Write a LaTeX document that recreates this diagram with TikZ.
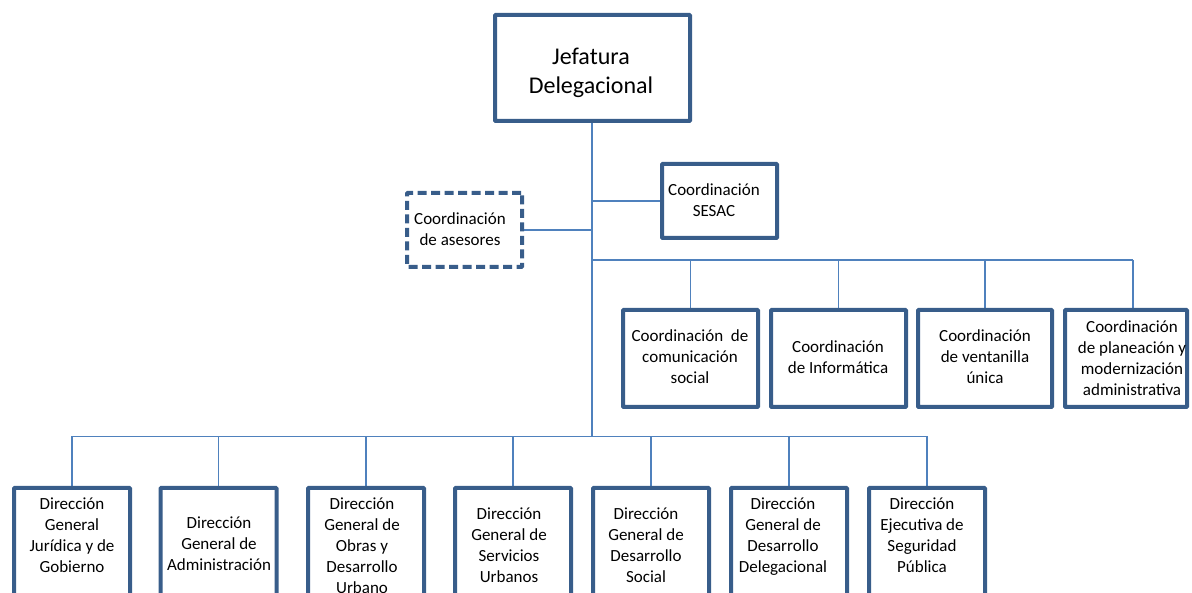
\documentclass[tikz,border=0pt]{standalone}
\usepackage{fontspec}
\setmainfont{Carlito}
\usetikzlibrary{backgrounds,calc}
\definecolor{boxblue}{RGB}{56,93,138}
\definecolor{linkblue}{RGB}{79,129,189}
\tikzset{
  orgbox/.style={draw=boxblue, line width=4pt, fill=white, inner sep=0pt, rounded corners=0.8pt},
  dashbox/.style={orgbox, dash pattern=on 9pt off 4.5pt},
  conn/.style={draw=linkblue, line width=1.4pt},
  txt/.style={align=center, inner sep=0pt, font=\fontsize{17}{21}\selectfont, text height=12pt, text depth=5pt},
  bigtxt/.style={align=center, inner sep=0pt, font=\fontsize{24}{29}\selectfont, text height=17pt, text depth=6pt}
}
\begin{document}
\begin{tikzpicture}[x=1pt,y=-1pt]
\useasboundingbox (0,0) rectangle (1192,593);
\clip (0,0) rectangle (1192,593);
% boxes
\node[orgbox, minimum width=195pt, minimum height=106pt] (J) at (592.5,68) {};
\node[orgbox, minimum width=115pt, minimum height=74pt] (S) at (719.5,201) {};
\node[dashbox, minimum width=115pt, minimum height=74pt] (A) at (464.5,230) {};
\node[orgbox, minimum width=135pt, minimum height=97pt] (c1) at (690.5,358.5) {};
\node[orgbox, minimum width=135pt, minimum height=97pt] (c2) at (838.5,358.5) {};
\node[orgbox, minimum width=134pt, minimum height=97pt] (c3) at (985,358.5) {};
\node[orgbox, minimum width=122pt, minimum height=97pt] (c4) at (1126,358.5) {};
\foreach \n/\x in {d1/72,d2/218.5,d3/366,d4/513,d5/651,d6/789,d7/927}{
  \node[orgbox, minimum width=116pt, minimum height=132pt] (\n) at (\x,554) {};
}
% texts
\node[bigtxt] (tJ) at (591,88.5) {Jefatura\\Delegacional};
\node[txt] (tS) at (714,213.5) {Coordinación\\SESAC};
\node[txt] (tA) at (460,242.5) {Coordinación\\de asesores};
\node[txt] (tc1) at (690,380.5) {Coordinación~ de\\comunicación\\social};
\node[txt] (tc2) at (838,370.5) {Coordinación\\de Informática};
\node[txt] (tc3) at (985,380) {Coordinación\\de ventanilla\\única};
\node[txt] (tc4) at (1132,392.5) {Coordinación\\de planeación y\\modernización\\administrativa};
\node[txt] (td1) at (72,569) {Dirección\\General\\Jurídica y de\\Gobierno};
\node[txt] (td2) at (219,567) {Dirección\\General de\\Administración};
\node[txt] (td3) at (362,590) {Dirección\\General de\\Obras y\\Desarrollo\\Urbano};
\node[txt] (td4) at (509,578.5) {Dirección\\General de\\Servicios\\Urbanos};
\node[txt] (td5) at (646,578.5) {Dirección\\General de\\Desarrollo\\Social};
\node[txt] (td6) at (783,568.5) {Dirección\\General de\\Desarrollo\\Delegacional};
\node[txt] (td7) at (922,568.5) {Dirección\\Ejecutiva de\\Seguridad\\Pública};
% connectors
\coordinate (tb) at (592,436.5);
\coordinate (ub) at (592,260);
\coordinate (k4) at (1133,260);
\begin{scope}[on background layer]
\draw[conn] (J.south -| tb) -- (tb);
\draw[conn] (S.west -| tb) -- (S.west);
\draw[conn] (A.east) -- (A.east -| tb);
\draw[conn] (ub) -- (k4);
\draw[conn] (c1.north |- ub) -- (c1.north);
\draw[conn] (c2.north |- ub) -- (c2.north);
\draw[conn] (c3.north |- ub) -- (c3.north);
\draw[conn] (k4) -- (k4 |- c4.north);
\draw[conn] (d1.north |- tb) -- (d7.north |- tb);
\foreach \n in {d1,d2,d3,d4,d5,d6,d7}{
  \draw[conn] (\n.north |- tb) -- (\n.north);
}
\end{scope}
\end{tikzpicture}
\end{document}
